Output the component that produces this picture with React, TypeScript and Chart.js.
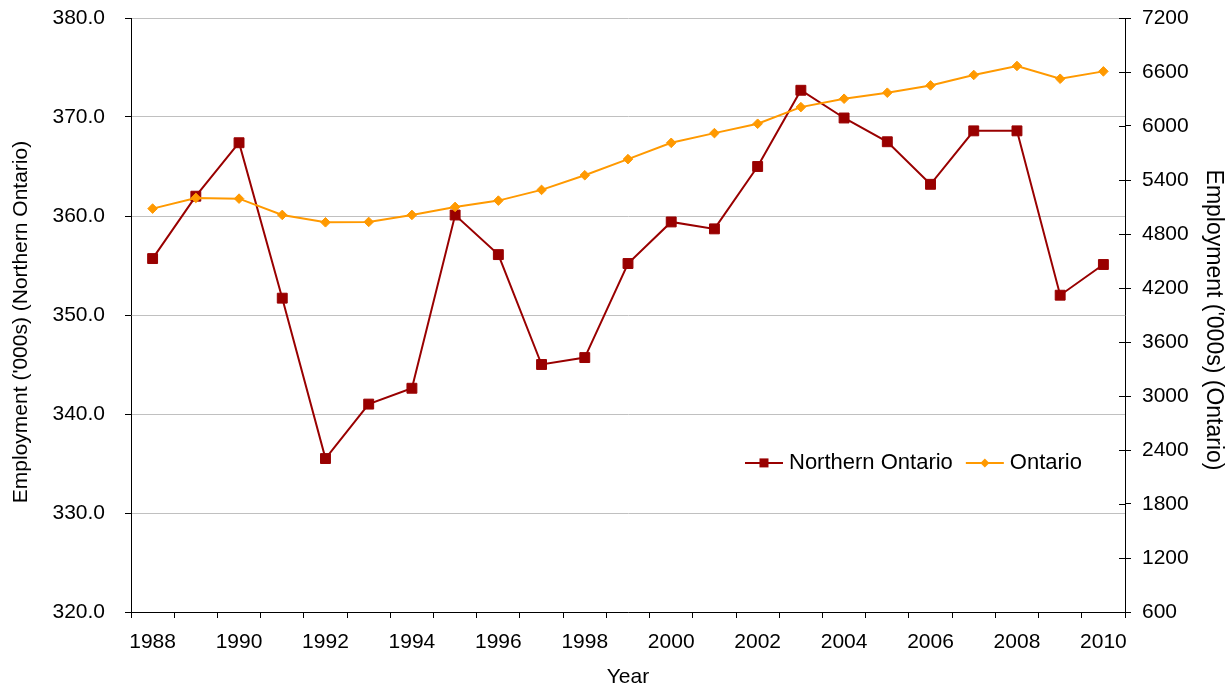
import React, { useEffect, useRef } from 'react';
import { Chart, registerables } from 'chart.js';

Chart.register(...registerables);

// ---- Data ----
const years = [
  '1988', '1989', '1990', '1991', '1992', '1993', '1994', '1995', '1996', '1997', '1998', '1999',
  '2000', '2001', '2002', '2003', '2004', '2005', '2006', '2007', '2008', '2009', '2010',
];
const northernOntario = [
  355.7, 362.0, 367.4, 351.7, 335.5, 341.0, 342.6, 360.1, 356.1, 345.0, 345.7, 355.2,
  359.4, 358.7, 365.0, 372.7, 369.9, 367.5, 363.2, 368.6, 368.6, 352.0, 355.1,
];
const ontario = [
  5082, 5201, 5193, 5012, 4930, 4934, 5012, 5101, 5171, 5290, 5453, 5632,
  5813, 5921, 6025, 6210, 6303, 6370, 6451, 6567, 6667, 6525, 6607,
];
const seriesNames = ['Northern Ontario', 'Ontario'];
const leftAxisMin = 320;
const leftAxisMax = 380;
const leftAxisStep = 10;
const rightAxisMin = 600;
const rightAxisMax = 7200;
const rightAxisStep = 600;
const xAxisTitle = 'Year';
const leftAxisTitle = "Employment ('000s) (Northern Ontario)";
const rightAxisTitle = "Employment ('000s) (Ontario)";

// ---- Styles ----
const RED = '#990000';
const ORANGE = '#FF9900';
const GRID = '#C0C0C0';
const FONT = "'Liberation Sans', Arial, Helvetica, sans-serif";
const W = 1229;
const H = 687;

export default function App() {
  const canvasRef = useRef<HTMLCanvasElement | null>(null);

  useEffect(() => {
    document.body.style.margin = '0';
    const canvas = canvasRef.current;
    if (!canvas) return;

    const rightInnerTicks = {
      id: 'rightInnerTicks',
      afterDraw(chart: any) {
        const s = chart.scales.y1;
        const { ctx, chartArea } = chart;
        ctx.save();
        ctx.strokeStyle = '#000';
        ctx.lineWidth = 1;
        s.ticks.forEach((t: any) => {
          const py = Math.round(s.getPixelForValue(t.value)) + 0.5;
          ctx.beginPath();
          ctx.moveTo(chartArea.right - 6, py);
          ctx.lineTo(chartArea.right, py);
          ctx.stroke();
        });
        ctx.restore();
      },
    };

    const yTitles = {
      id: 'yTitles',
      afterDraw(chart: any) {
        const { ctx, chartArea } = chart;
        const mid = (chartArea.top + chartArea.bottom) / 2;
        ctx.save();
        ctx.fillStyle = '#000';
        ctx.textAlign = 'center';
        ctx.textBaseline = 'middle';
        ctx.font = `21px ${FONT}`;
        ctx.save();
        ctx.translate(21, mid + 7);
        ctx.rotate(-Math.PI / 2);
        ctx.fillText(leftAxisTitle, 0, 0);
        ctx.restore();
        ctx.font = `23px ${FONT}`;
        ctx.save();
        ctx.translate(chart.width - 16, mid + 5);
        ctx.rotate(Math.PI / 2);
        ctx.fillText(rightAxisTitle, 0, 0);
        ctx.restore();
        ctx.restore();
      },
    };

    const customLegend = {
      id: 'customLegend',
      afterDraw(chart: any) {
        const { ctx, chartArea } = chart;
        const y = chartArea.top + 0.749 * (chartArea.bottom - chartArea.top);
        let x = chartArea.left + 0.6177 * (chartArea.right - chartArea.left);
        ctx.save();
        ctx.font = `22px ${FONT}`;
        ctx.textBaseline = 'middle';
        ctx.textAlign = 'left';
        chart.data.datasets.forEach((ds: any) => {
          ctx.strokeStyle = ds.borderColor;
          ctx.lineWidth = 2;
          ctx.beginPath();
          ctx.moveTo(x, y);
          ctx.lineTo(x + 38, y);
          ctx.stroke();
          const cx = x + 19;
          ctx.fillStyle = ds.pointBackgroundColor;
          if (ds.pointStyle === 'rect') {
            ctx.fillRect(cx - 4.5, y - 4.5, 9, 9);
          } else {
            ctx.beginPath();
            ctx.moveTo(cx - 4.5, y);
            ctx.lineTo(cx, y - 4.5);
            ctx.lineTo(cx + 4.5, y);
            ctx.lineTo(cx, y + 4.5);
            ctx.closePath();
            ctx.fill();
          }
          ctx.fillStyle = '#000';
          ctx.fillText(ds.label, x + 44, y);
          x += 44 + ctx.measureText(ds.label).width + 13;
        });
        ctx.restore();
      },
    };

    const tickFont = { family: FONT, size: 21 };
    const titleFont = { family: FONT, size: 21, lineHeight: 1 };

    const chart = new Chart(canvas, {
      type: 'line',
      data: {
        labels: years,
        datasets: [
          {
            label: seriesNames[0],
            data: northernOntario,
            yAxisID: 'y',
            borderColor: RED,
            backgroundColor: RED,
            borderWidth: 2,
            pointStyle: 'rect',
            pointRadius: 7,
            pointBorderWidth: 1,
            pointBackgroundColor: RED,
            pointBorderColor: RED,
            tension: 0,
            order: 1,
          },
          {
            label: seriesNames[1],
            data: ontario,
            yAxisID: 'y1',
            borderColor: ORANGE,
            backgroundColor: ORANGE,
            borderWidth: 2,
            pointStyle: 'rectRot',
            pointRadius: 4.8,
            pointBorderWidth: 1,
            pointBackgroundColor: ORANGE,
            pointBorderColor: ORANGE,
            tension: 0,
            order: 0,
          },
        ],
      },
      options: {
        animation: false,
        responsive: true,
        maintainAspectRatio: false,
        layout: { padding: { top: 18, left: 0, right: 0, bottom: 0 } },
        plugins: {
          legend: { display: false },
          tooltip: { enabled: false },
        },
        scales: {
          x: {
            type: 'category',
            offset: true,
            grid: { offset: true, drawOnChartArea: false, drawTicks: true, tickLength: 6, tickColor: '#000' },
            border: { color: '#000', width: 1 },
            ticks: {
              autoSkip: false,
              maxRotation: 0,
              minRotation: 0,
              padding: 12,
              color: '#000',
              font: tickFont,
              callback: (_v: any, i: number) => (i % 2 === 0 ? years[i] : ''),
            },
            title: { display: true, text: xAxisTitle, color: '#000', font: titleFont, padding: { top: 0, bottom: -1 } },
            afterFit: (s: any) => { s.height = 75; s.paddingLeft = 0; s.paddingRight = 0; },
          },
          y: {
            position: 'left',
            min: leftAxisMin,
            max: leftAxisMax,
            grid: { color: GRID, lineWidth: 1, tickColor: '#000', tickLength: 6 },
            border: { color: '#000', width: 1 },
            ticks: {
              stepSize: leftAxisStep,
              padding: 20,
              color: '#000',
              font: tickFont,
              callback: (v: any) => Number(v).toFixed(1),
            },
            title: { display: false },
            afterFit: (s: any) => { s.width = 131; s.paddingTop = 0; s.paddingBottom = 0; },
          },
          y1: {
            position: 'right',
            min: rightAxisMin,
            max: rightAxisMax,
            grid: { drawOnChartArea: false, tickColor: '#000', tickLength: 6 },
            border: { color: '#000', width: 1 },
            ticks: {
              stepSize: rightAxisStep,
              padding: 11,
              color: '#000',
              font: tickFont,
              callback: (v: any) => String(v),
            },
            title: { display: false },
            afterFit: (s: any) => { s.width = 104; s.paddingTop = 0; s.paddingBottom = 0; },
          },
        },
      },
      plugins: [rightInnerTicks, yTitles, customLegend],
    } as any);

    return () => chart.destroy();
  }, []);

  return (
    <div style={{ position: 'relative', width: W, height: H, background: '#fff' }}>
      <canvas ref={canvasRef} />
    </div>
  );
}
